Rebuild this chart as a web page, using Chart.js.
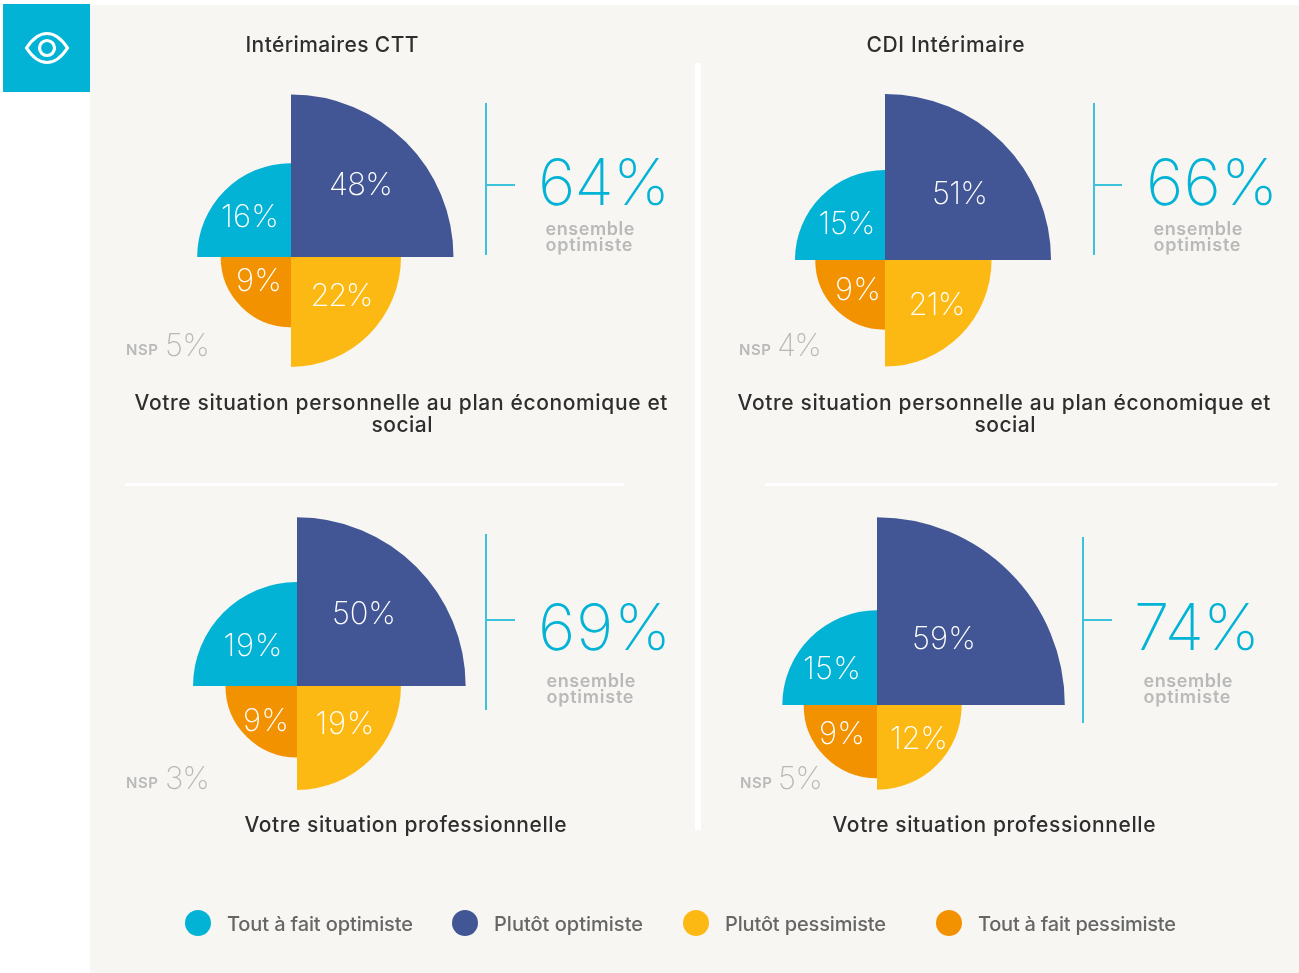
<!DOCTYPE html>
<html lang="fr"><head><meta charset="utf-8"><title>Optimisme</title>
<script src="https://cdn.jsdelivr.net/npm/chart.js@4"></script>
<style>
html,body{margin:0;padding:0;background:#fff;width:1299px;height:973px;overflow:hidden}
#stage{position:relative;width:1299px;height:973px;font-family:Inter,"Open Sans",sans-serif}
#panel{position:absolute;left:90px;top:5px;width:1209px;height:968px;background:#f7f6f3}
#badge{position:absolute;left:3px;top:4px;width:87px;height:88px;background:#02b3d6}
.r{position:absolute}
.t{position:absolute;white-space:nowrap;line-height:1}
canvas{position:absolute}
</style></head><body><div id="stage"><div id="panel"></div>
<div id="badge"><svg width="87" height="88" style="position:absolute;left:0;top:0"><path d="M23.5 44 C30 34 36.5 29.5 44 29.5 C51.5 29.5 58 34 64.5 44 C58 54 51.5 58.5 44 58.5 C36.5 58.5 30 54 23.5 44 Z" fill="none" stroke="#fff" stroke-width="3.2"/><circle cx="44" cy="44" r="7.5" fill="none" stroke="#fff" stroke-width="3.2"/></svg></div>
</div>
<script>
// Clockwise from 12 o'clock: Plutôt optimiste, Plutôt pessimiste, Tout à fait pessimiste, Tout à fait optimiste
const sliceNames = ['Plutôt optimiste','Plutôt pessimiste','Tout à fait pessimiste','Tout à fait optimiste'];
const sliceColors = ['#425695','#fdb913','#f39200','#02b3d6'];
const valuesA = [48,22,9,16];
const valuesB = [51,21,9,15];
const valuesC = [50,19,9,19];
const valuesD = [59,12,9,15];
const totals = ['64%','66%','69%','74%'];
const nsp = ['5%','4%','3%','5%'];
const headings = ['Intérimaires CTT','CDI Intérimaire'];
const question1 = ['Votre situation personnelle au plan économique et','social'];
const question2 = 'Votre situation professionnelle';
const legendNames = ['Tout à fait optimiste','Plutôt optimiste','Plutôt pessimiste','Tout à fait pessimiste'];
const legendColors = ['#02b3d6','#425695','#fdb913','#f39200'];

const stage = document.getElementById('stage');
const SANS = 'Inter,"Open Sans",sans-serif';
const ctx0 = document.createElement('canvas').getContext('2d');
function text(s,x,y,o){
  const e=document.createElement('div');e.className='t';e.textContent=s;
  const size=o.size,weight=o.weight||400;
  e.style.fontSize=size+'px';e.style.fontWeight=weight;e.style.color=o.color;e.style.fontFamily=SANS;
  ctx0.font=weight+' '+size+'px '+SANS;
  const w=ctx0.measureText(s).width;
  if(o.width){e.style.letterSpacing=((o.width-w)/(s.length-1))+'px';}
  const W=o.width||w;
  e.style.left=(o.left?x:x-W/2)+'px';
  e.style.top=(y-size/2)+'px';
  stage.appendChild(e);
}
function rect(x,y,w,h,c){const e=document.createElement('div');e.className='r';e.style.cssText+=`left:${x}px;top:${y}px;width:${w}px;height:${h}px;background:${c}`;stage.appendChild(e);}

// dividers
rect(695,63,6,767,'#fff');
rect(125,483,499,2.5,'#fff');
rect(765,483,512,2.5,'#fff');

// polar charts: slice AREA encodes the value, so the radius follows its square root
function polar(values,cx,cy,pxPerRootUnit){
  const R=210;
  const c=document.createElement('canvas');
  c.width=2*R;c.height=2*R;c.style.left=(cx-R)+'px';c.style.top=(cy-R)+'px';c.style.width=2*R+'px';c.style.height=2*R+'px';
  stage.appendChild(c);
  new Chart(c,{type:'polarArea',
    data:{labels:sliceNames,datasets:[{data:values.map(Math.sqrt),backgroundColor:sliceColors,borderWidth:0}]},
    options:{responsive:false,animation:false,devicePixelRatio:1,
      layout:{padding:0},
      plugins:{legend:{display:false},tooltip:{enabled:false}},
      scales:{r:{display:false,min:0,max:R/pxPerRootUnit}}}});
}
polar(valuesA,291,257,23.45);
polar(valuesB,885,260,23.25);
polar(valuesC,297,686,23.85);
polar(valuesD,877,705,24.45);

// slice labels
const W='#ffffff';
function pct(v,x,y,w){text(v+'%',x,y-0.5,{size:31,weight:250,color:W,width:w});}
[[valuesA,[[361,184,64],[342,295,63],[259,280,46],[250,216,58]]],
 [valuesB,[[960,193,56],[937,304,57],[858,289,46],[847,223,57]]],
 [valuesC,[[364,613,64],[345,723,59],[266,720,46],[253,645,59]]],
 [valuesD,[[944,638,64],[919,738,58],[842,733,46],[832,668,58]]]
].forEach(([vals,pos])=>vals.forEach((v,i)=>pct(v,pos[i][0],pos[i][1],pos[i][2])));

// brackets and totals
const LINE='#3bc3dc',CY='#02b3d6',GREY='#b9b9b9';
[[486,103,152,184,29, 604,182.2,132, 545.5,228.5],
 [1094,103,152,184,28, 1212,182.2,132, 1153.5,228.5],
 [486,534,176,619,29, 604.5,627.2,133, 546.5,680.5],
 [1083,537,186,619,29, 1197,627.2,126, 1143.5,680.5]
].forEach((b,i)=>{
  rect(b[0]-1,b[1],2,b[2],LINE);
  rect(b[0]-1,b[3],b[4]+1,1.5,LINE);
  text(totals[i],b[5],b[6],{size:64,weight:250,color:CY,width:b[7]});
  text('ensemble',b[8],b[9],{size:18,weight:600,color:GREY,left:true,width:89});
  text('optimiste',b[8],b[9]+16,{size:18,weight:600,color:GREY,left:true,width:87});
});
// NSP
[[126,349.5,165,344],[739,349.5,777,344],[126,782.5,165,777],[740,782.5,778,777]].forEach((n,i)=>{
  text('NSP',n[0],n[1],{size:15,weight:600,color:GREY,left:true,width:32});
  text(nsp[i],n[2],n[3],{size:31,weight:250,color:GREY,left:true,width:45});
});
// headings
const DARK='#2e2e2e';
text(headings[0],245.5,44,{size:21,weight:500,color:DARK,left:true,width:173});
text(headings[1],866.5,44,{size:21,weight:500,color:DARK,left:true,width:158});
[[134.5,371.5],[737.5,974.5]].forEach(p=>{
  text(question1[0],p[0],402.5,{size:21,weight:500,color:DARK,left:true,width:533});
  text(question1[1],p[1],424.5,{size:21,weight:500,color:DARK,left:true,width:61});
});
text(question2,244.5,824.5,{size:21,weight:500,color:DARK,left:true,width:322});
text(question2,832.5,824.5,{size:21,weight:500,color:DARK,left:true,width:323});
// legend
[[198,227,186],[465,494,149],[696,725,161],[949,978,198]].forEach((l,i)=>{
  const d=document.createElement('div');d.className='r';
  d.style.cssText+=`left:${l[0]-13}px;top:910px;width:26px;height:26px;border-radius:50%;background:${legendColors[i]}`;
  stage.appendChild(d);
  text(legendNames[i],l[1],923.5,{size:20,weight:500,color:'#666666',left:true,width:l[2]});
});
</script></body></html>
